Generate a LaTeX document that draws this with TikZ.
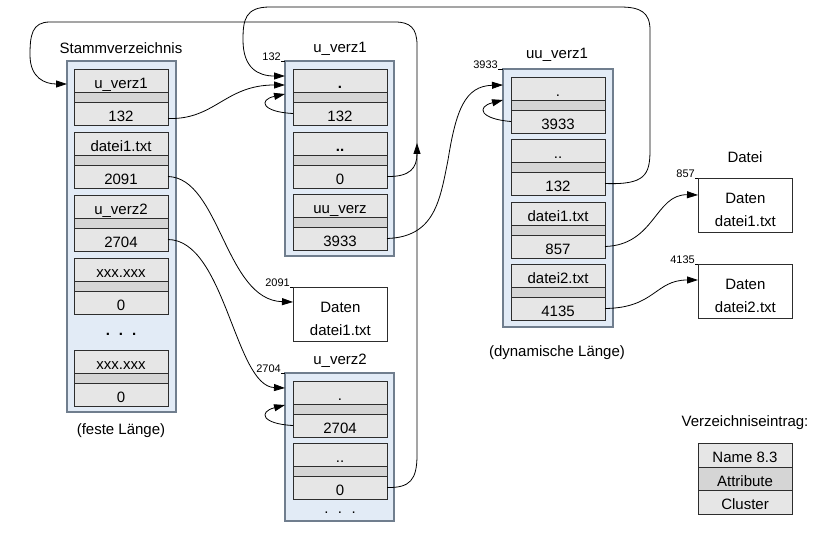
\documentclass[tikz,border=0pt]{standalone}
\usepackage{fontspec}
\setmainfont{Liberation Sans}
\usetikzlibrary{arrows.meta}
\definecolor{contfill}{RGB}{226,235,246}
\definecolor{contline}{RGB}{112,126,142}
\definecolor{cellfill}{RGB}{230,230,230}
\definecolor{attrfill}{RGB}{213,213,213}
\definecolor{cellline}{RGB}{45,45,45}
\newcommand\dirent[5]{%
  \node[cell,anchor=north west] (#1-n) at (#2,#3) {#4};
  \node[attrrow,anchor=north] (#1-a) at (#1-n.south) {};
  \node[cell,anchor=north] (#1-c) at (#1-a.south) {#5};}
\begin{document}
\begin{tikzpicture}[x=1pt,y=-1pt,
  font=\fontsize{15}{18}\selectfont,
  cont/.style={draw=contline, fill=contfill, line width=1.3pt, inner sep=0pt, outer sep=0pt, anchor=north west},
  cell/.style={draw=cellline, fill=cellfill, line width=0.8pt, minimum width=94pt, minimum height=23pt, inner sep=0pt, outer sep=0pt, text height=18pt, text depth=1.2pt},
  attrrow/.style={cell, fill=attrfill, minimum height=10pt, text height=0pt, text depth=0pt},
  legcell/.style={cell, text height=16pt, text depth=1pt},
  lbl/.style={inner sep=0pt},
  small/.style={font=\fontsize{11}{13}\selectfont, inner sep=0pt, anchor=south east},
  tick/.style={line width=0.6pt},
  conn/.style={line width=0.8pt, -{Triangle[length=11pt,width=7pt]}},
  datbox/.style={draw=cellline, fill=white, line width=0.8pt, minimum width=94pt, minimum height=54pt, inner sep=0pt, align=center, anchor=north west, font=\fontsize{15}{23}\selectfont},
  dots/.style={inner sep=0pt}
]
\useasboundingbox (0,0) rectangle (821,534);

% containers
\node[cont, minimum width=109pt, minimum height=351pt] (stamm) at (67,61) {};
\node[cont, minimum width=109pt, minimum height=195pt] (u1) at (285,61) {};
\node[cont, minimum width=110pt, minimum height=258pt] (uu) at (503,69) {};
\node[cont, minimum width=109pt, minimum height=148pt] (u2) at (285,373) {};

% Stammverzeichnis entries
\dirent{s1}{74}{69}{u\_verz1}{132}
\dirent{s2}{74}{132}{datei1.txt}{2091}
\dirent{s3}{74}{195}{u\_verz2}{2704}
\dirent{s4}{74}{258}{xxx.xxx}{0}
\dirent{s5}{74}{350}{xxx.xxx}{0}
\node[dots] (sdots) at (121,334) {\textbf{.\hspace{9pt}.\hspace{9pt}.}};

% u_verz1 entries
\dirent{a1}{293}{69}{\textbf{.}}{132}
\dirent{a2}{293}{132}{\textbf{..}}{0}
\dirent{a3}{293}{194}{uu\_verz}{3933}

% uu_verz1 entries
\dirent{b1}{511}{77}{.}{3933}
\dirent{b2}{511}{139}{..}{132}
\dirent{b3}{511}{202}{datei1.txt}{857}
\dirent{b4}{511}{264}{datei2.txt}{4135}

% u_verz2 entries
\dirent{c1}{293}{381}{.}{2704}
\dirent{c2}{293}{443}{..}{0}
\node[dots] (udots) at (340,513) {.\hspace{9.5pt}.\hspace{9.5pt}.};

% data boxes
\node[datbox] (d0) at (293,287) {\rule{0pt}{19pt}Daten\\datei1.txt};
\node[datbox] (d1) at (698,178) {\rule{0pt}{19pt}Daten\\datei1.txt};
\node[datbox] (d2) at (698,264) {\rule{0pt}{19pt}Daten\\datei2.txt};

% labels
\node[lbl] (stammlbl) at (121,48) {Stammverzeichnis};
\node[lbl] (festelbl) at (121,431) {(feste Länge)};
\node[lbl] (u1lbl) at (340,49) {u\_verz1};
\node[lbl] (uulbl) at (557,55) {uu\_verz1};
\node[lbl] (dynlbl) at (557,353) {(dynamische Länge)};
\node[lbl] (u2lbl) at (340,361) {u\_verz2};
\node[lbl] (dateilbl) at (745,157) {Datei};
\node[lbl] (leglbl) at (745,423) {Verzeichniseintrag:};

% small address labels
\node[small] (l132) at (281,61) {132};
\draw[tick] (l132.south east) -- (u1.north west);
\node[small] (l3933) at (498,69) {3933};
\draw[tick] (l3933.south east) -- (uu.north west);
\node[small] (l2091) at (290,287) {2091};
\draw[tick] (l2091.south east) -- (d0.north west);
\node[small] (l2704) at (281,373) {2704};
\draw[tick] (l2704.south east) -- (u2.north west);
\node[small] (l857) at (695,178) {857};
\draw[tick] (l857.south east) -- (d1.north west);
\node[small] (l4135) at (695,264) {4135};
\draw[tick] (l4135.south east) -- (d2.north west);

% legend
\node[legcell, anchor=north west, minimum height=24pt] (leg1) at (698,443) {Name 8.3};
\node[legcell, anchor=north, fill=attrfill] (leg2) at (leg1.south) {Attribute};
\node[legcell, anchor=north, minimum height=24pt] (leg3) at (leg2.south) {Cluster};

% connectors
\draw[conn] ([yshift=-5pt]s1-c.east) .. controls (215,120) and (225,85) .. ([yshift=-24pt]u1.north west);
\draw[conn] (b2-c.east) .. controls (645,185) and (650,175) .. (650,150) -- (650,30)
  .. controls (650,12) and (640,7) .. (620,7) -- (270,7)
  .. controls (245,7) and (243,20) .. (243,40)
  .. controls (243,68) and (258,76) .. ([yshift=-15pt]u1.north west);
\draw[conn] (c2-c.east) .. controls (410,488) and (417,480) .. (417,455) -- (417,45)
  .. controls (417,28) and (410,22) .. (395,22) -- (50,22)
  .. controls (32,22) and (30,35) .. (30,55)
  .. controls (30,78) and (45,84) .. ([yshift=-23pt]stamm.north west);
\draw[conn] (a2-c.east) .. controls (410,177) and (417,168) .. (417,143);
\draw[conn] (a1-c.west) .. controls (262,112) and (258,100) .. ([yshift=-33pt]u1.north west);
\draw[conn] (a3-c.east) .. controls (435,237) and (440,200) .. (448,160)
  .. controls (456,110) and (465,86) .. ([yshift=-16pt]uu.north west);
\draw[conn] (b1-c.west) .. controls (480,119) and (476,107) .. ([yshift=-31pt]uu.north west);
\draw[conn] (s2-c.east) .. controls (220,178) and (225,300) .. ([yshift=-15pt]d0.north west);
\draw[conn] (s3-c.east) .. controls (225,240) and (235,386) .. ([yshift=-15pt]u2.north west);
\draw[conn] (c1-c.west) .. controls (262,424) and (258,412) .. ([yshift=-32pt]u2.north west);
\draw[conn] (b3-c.east) .. controls (655,245) and (655,194) .. ([yshift=-17pt]d1.north west);
\draw[conn] (b4-c.east) .. controls (655,308) and (655,280) .. ([yshift=-16pt]d2.north west);
\end{tikzpicture}
\end{document}
